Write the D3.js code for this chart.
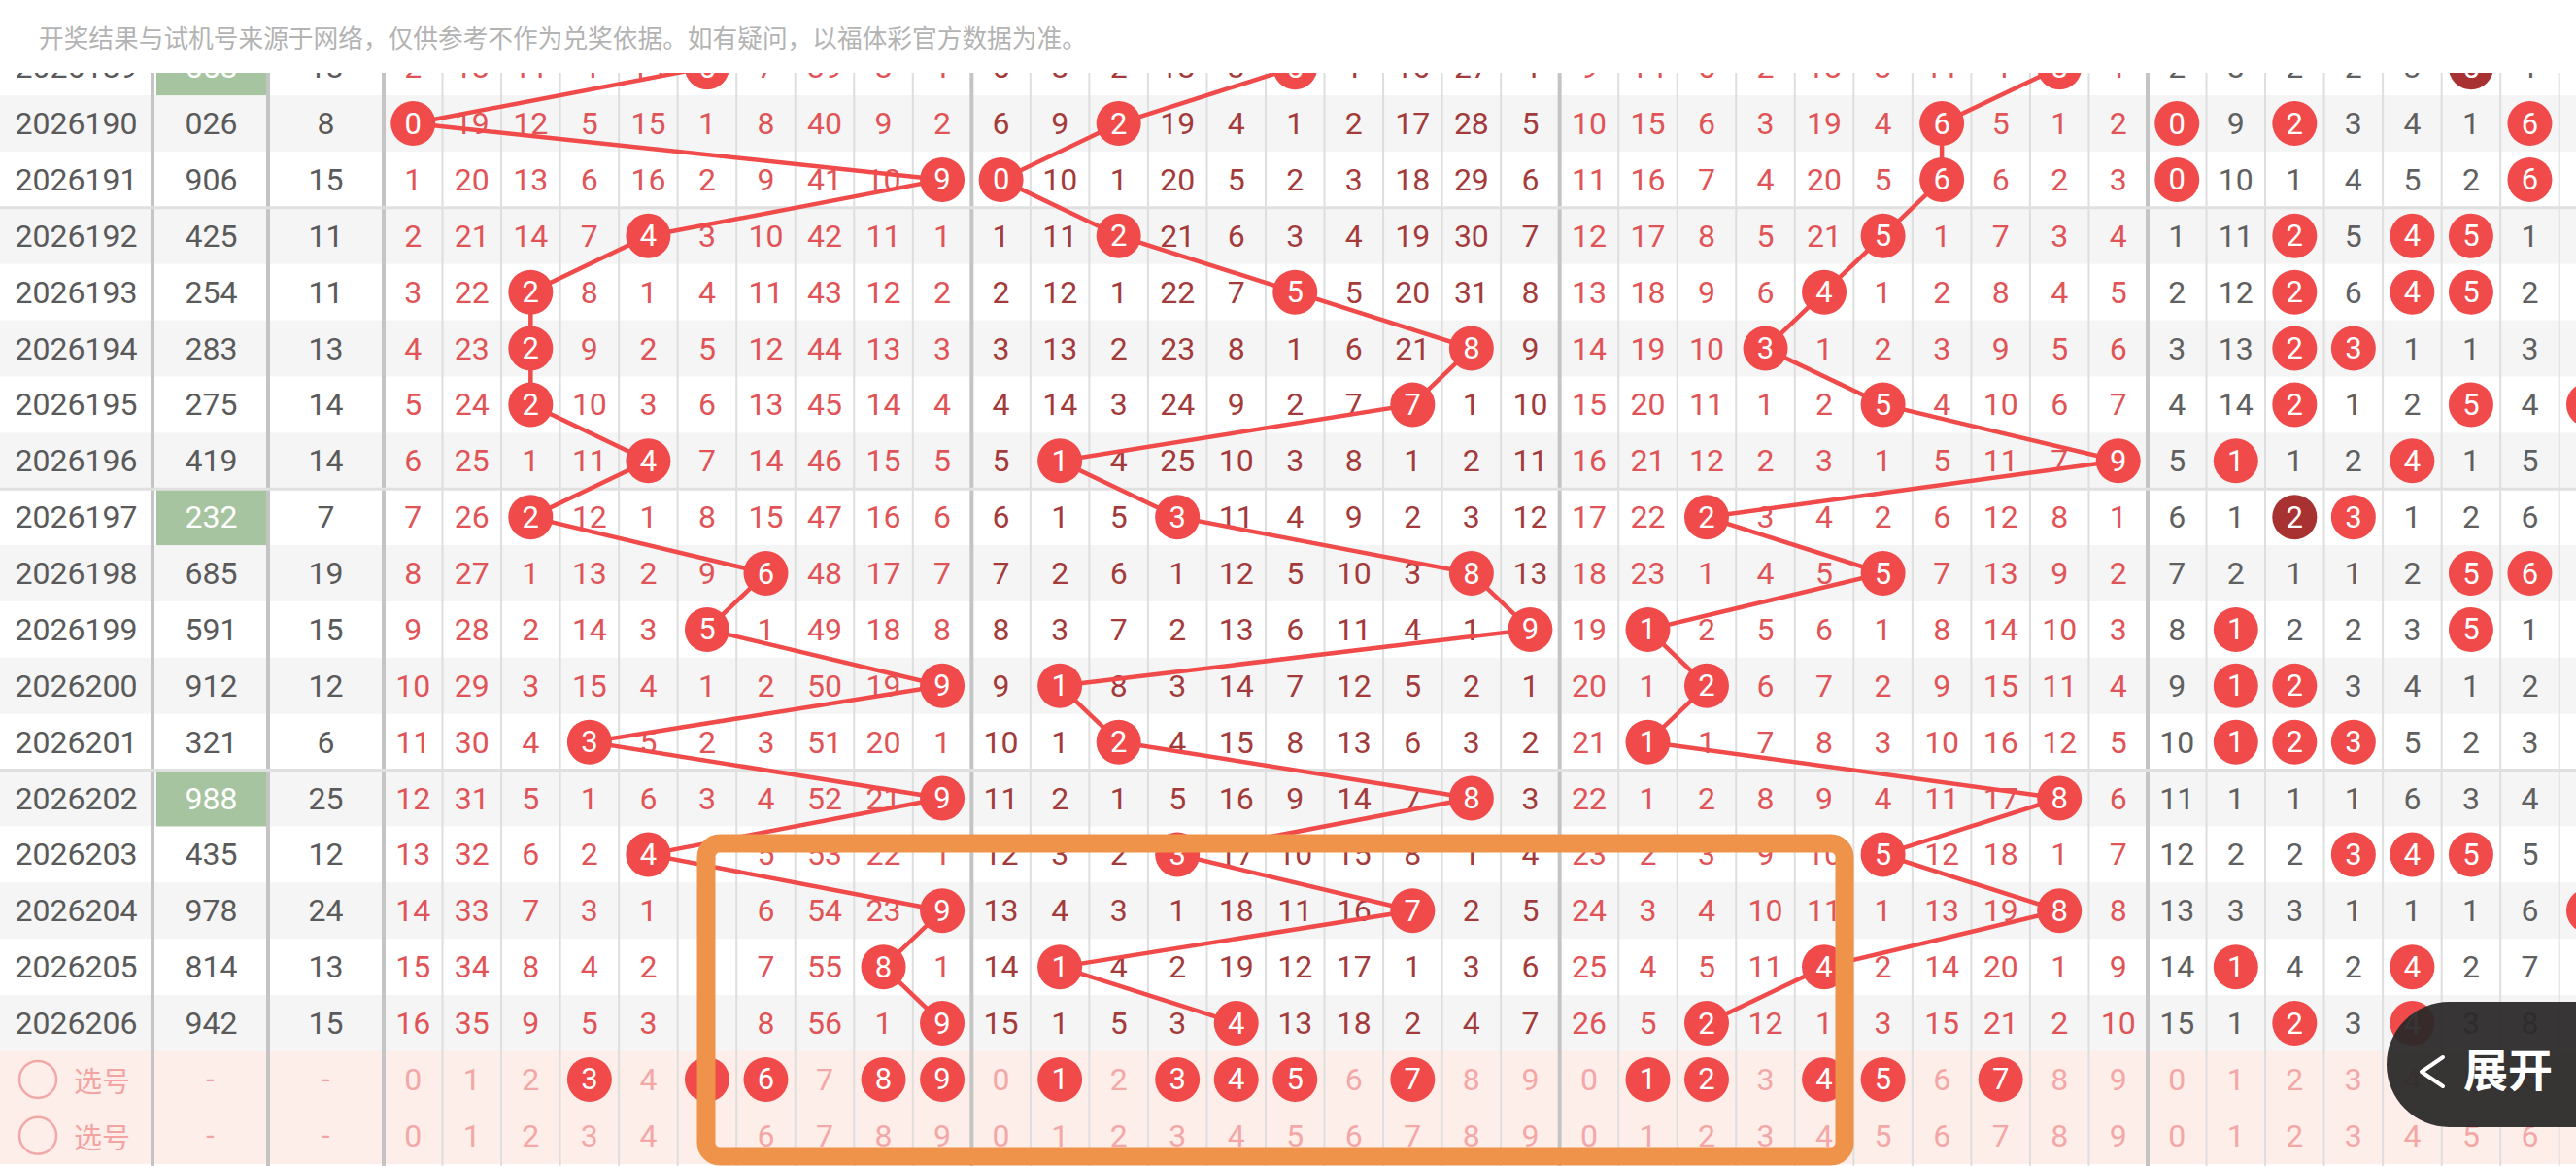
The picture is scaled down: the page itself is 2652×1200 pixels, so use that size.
<!DOCTYPE html>
<html><head><meta charset="utf-8">
<script src="https://cdn.jsdelivr.net/npm/d3@7"></script>
<style>html,body{margin:0;padding:0;background:#fff;overflow:hidden;} svg{display:block}</style>
</head><body>
<svg id="chart" width="2652" height="1200"></svg>
<script>
const notice = "开奖结果与试机号来源于网络，仅供参考不作为兑奖依据。如有疑问，以福体彩官方数据为准。";
const issues = ["2026189","2026190","2026191","2026192","2026193","2026194","2026195","2026196","2026197","2026198","2026199","2026200","2026201","2026202","2026203","2026204","2026205","2026206"];
const draws = ["558","026","906","425","254","283","275","419","232","685","591","912","321","988","435","978","814","942"];
const sums = [18,8,15,11,11,13,14,14,7,19,15,12,6,25,12,24,13,15];
// omission values; 0 = drawn (shown as a ball)
const hundredsOmit = [
 [2,18,11,4,14,0,7,39,8,1],
 [0,19,12,5,15,1,8,40,9,2],
 [1,20,13,6,16,2,9,41,10,0],
 [2,21,14,7,0,3,10,42,11,1],
 [3,22,0,8,1,4,11,43,12,2],
 [4,23,0,9,2,5,12,44,13,3],
 [5,24,0,10,3,6,13,45,14,4],
 [6,25,1,11,0,7,14,46,15,5],
 [7,26,0,12,1,8,15,47,16,6],
 [8,27,1,13,2,9,0,48,17,7],
 [9,28,2,14,3,0,1,49,18,8],
 [10,29,3,15,4,1,2,50,19,0],
 [11,30,4,0,5,2,3,51,20,1],
 [12,31,5,1,6,3,4,52,21,0],
 [13,32,6,2,0,4,5,53,22,1],
 [14,33,7,3,1,5,6,54,23,0],
 [15,34,8,4,2,6,7,55,0,1],
 [16,35,9,5,3,7,8,56,1,0]
];
const tensOmit = [
 [5,8,2,18,3,0,1,16,27,4],
 [6,9,0,19,4,1,2,17,28,5],
 [0,10,1,20,5,2,3,18,29,6],
 [1,11,0,21,6,3,4,19,30,7],
 [2,12,1,22,7,0,5,20,31,8],
 [3,13,2,23,8,1,6,21,0,9],
 [4,14,3,24,9,2,7,0,1,10],
 [5,0,4,25,10,3,8,1,2,11],
 [6,1,5,0,11,4,9,2,3,12],
 [7,2,6,1,12,5,10,3,0,13],
 [8,3,7,2,13,6,11,4,1,0],
 [9,0,8,3,14,7,12,5,2,1],
 [10,1,0,4,15,8,13,6,3,2],
 [11,2,1,5,16,9,14,7,0,3],
 [12,3,2,0,17,10,15,8,1,4],
 [13,4,3,1,18,11,16,0,2,5],
 [14,0,4,2,19,12,17,1,3,6],
 [15,1,5,3,0,13,18,2,4,7]
];
const unitsOmit = [
 [9,14,5,2,18,3,11,4,0,1],
 [10,15,6,3,19,4,0,5,1,2],
 [11,16,7,4,20,5,0,6,2,3],
 [12,17,8,5,21,0,1,7,3,4],
 [13,18,9,6,0,1,2,8,4,5],
 [14,19,10,0,1,2,3,9,5,6],
 [15,20,11,1,2,0,4,10,6,7],
 [16,21,12,2,3,1,5,11,7,0],
 [17,22,0,3,4,2,6,12,8,1],
 [18,23,1,4,5,0,7,13,9,2],
 [19,0,2,5,6,1,8,14,10,3],
 [20,1,0,6,7,2,9,15,11,4],
 [21,0,1,7,8,3,10,16,12,5],
 [22,1,2,8,9,4,11,17,0,6],
 [23,2,3,9,10,0,12,18,1,7],
 [24,3,4,10,11,1,13,19,0,8],
 [25,4,5,11,0,2,14,20,1,9],
 [26,5,0,12,1,3,15,21,2,10]
];
const distOmit = [
 [2,8,2,2,3,0,1,3,0,4],
 [0,9,0,3,4,1,0,4,1,5],
 [0,10,1,4,5,2,0,5,2,0],
 [1,11,0,5,0,0,1,6,3,1],
 [2,12,0,6,0,0,2,7,4,2],
 [3,13,0,0,1,1,3,8,0,3],
 [4,14,0,1,2,0,4,0,1,4],
 [5,0,1,2,0,1,5,1,2,0],
 [6,1,0,0,1,2,6,2,3,1],
 [7,2,1,1,2,0,0,3,0,2],
 [8,0,2,2,3,0,1,4,1,0],
 [9,0,0,3,4,1,2,5,2,0],
 [10,0,0,0,5,2,3,6,3,1],
 [11,1,1,1,6,3,4,7,0,0],
 [12,2,2,0,0,0,5,8,1,1],
 [13,3,3,1,1,1,6,0,0,0],
 [14,0,4,2,0,2,7,1,0,1],
 [15,1,0,3,0,3,8,2,1,0]
];
const digits = [0,1,2,3,4,5,6,7,8,9];
const pickH = [3,5,6,8,9];
const pickT = [1,3,4,5,7];
const pickU = [1,2,4,5,7];
const pickD = [];
const selectLabel = "选号";
const buttonLabel = "展开";

const W = 2652, H = 1200;
const RED = "#f04a4a", DARK = "#a83232";
const groupColors = ["#e05457", "#a33b3b", "#e05457", "#606060"];
const svg = d3.select("#chart");
const FONT = "Roboto, 'Noto Sans', sans-serif";

const colW = 60.533;
const x = d3.scaleBand().domain(d3.range(40)).range([395, 395 + 40 * colW]);
const rowKeys = issues.concat(["sel1", "sel2"]);
const rowH = 57.875;
const y = d3.scaleBand().domain(rowKeys).range([40.2, 40.2 + rowKeys.length * rowH]);
const cx = (g, k) => x(g * 10 + k) + x.bandwidth() / 2;
const cy = key => y(key) + y.bandwidth() / 2;
const leftCol = d3.scaleOrdinal().domain(["issue", "draw", "sum"]).range([[0, 157], [157, 276], [276, 395]]);
const leftC = k => (leftCol(k)[0] + leftCol(k)[1]) / 2;

svg.append("defs").append("clipPath").attr("id", "tbl").append("rect")
  .attr("x", 0).attr("y", 75).attr("width", W).attr("height", H - 75);
const T = svg.append("g").attr("clip-path", "url(#tbl)");

// row backgrounds
T.selectAll("rect.rowbg").data(rowKeys).join("rect")
  .attr("x", 0).attr("width", W)
  .attr("y", d => y(d)).attr("height", y.bandwidth() + 0.5)
  .attr("fill", (d, i) => d.startsWith("sel") ? "#fdeee9" : (i % 2 ? "#f5f5f5" : "#ffffff"));

// green cells for repeated-digit draws
const isPair = s => new Set(s.split("")).size < 3;
T.selectAll("rect.green").data(issues.filter((d, i) => isPair(draws[i]))).join("rect")
  .attr("x", leftCol("draw")[0] + 4).attr("width", leftCol("draw")[1] - leftCol("draw")[0] - 6)
  .attr("y", d => y(d)).attr("height", y.bandwidth())
  .attr("fill", "#a7c4a1");

// vertical grid lines
const thin = d3.range(1, 40).filter(i => i % 10 !== 0);
T.selectAll("line.vthin").data(thin).join("line")
  .attr("x1", i => x(i)).attr("x2", i => x(i)).attr("y1", 0).attr("y2", H)
  .attr("stroke", "#dedede").attr("stroke-width", 2);
const thick = [leftCol("issue")[1], leftCol("draw")[1], x(0), x(10), x(20), x(30)];
T.selectAll("line.vthick").data(thick).join("line")
  .attr("x1", d => d).attr("x2", d => d).attr("y1", 0).attr("y2", H)
  .attr("stroke", "#c4c4c4").attr("stroke-width", 4);
// five-row separators
const sepRows = issues.filter((d, i) => (+d.slice(-3) - 192) % 5 === 0);
T.selectAll("line.hsep").data(sepRows).join("line")
  .attr("x1", 0).attr("x2", W).attr("y1", d => y(d)).attr("y2", d => y(d))
  .attr("stroke", "#e0e0e0").attr("stroke-width", 3);

// left columns text
const txt = (sel) => sel.attr("font-family", FONT).attr("text-anchor", "middle").attr("dominant-baseline", "central");
issues.forEach((iss, i) => {
  txt(T.append("text")).attr("x", leftC("issue")).attr("y", cy(iss)).attr("font-size", 32).attr("fill", "#5a5a5a").text(iss);
  txt(T.append("text")).attr("x", leftC("draw") + 1).attr("y", cy(iss)).attr("font-size", 32)
    .attr("fill", isPair(draws[i]) ? "#ffffff" : "#5a5a5a").text(draws[i]);
  txt(T.append("text")).attr("x", leftC("sum")).attr("y", cy(iss)).attr("font-size", 32).attr("fill", "#5a5a5a").text(sums[i]);
});

// omission numbers
const groups = [hundredsOmit, tensOmit, unitsOmit, distOmit];
groups.forEach((arr, g) => {
  arr.forEach((row, i) => {
    row.forEach((v, k) => {
      if (v !== 0) txt(T.append("text")).attr("x", cx(g, k)).attr("y", cy(issues[i])).attr("font-size", 32)
        .attr("fill", groupColors[g]).text(v);
    });
  });
});

// trend lines
const line = d3.line();
[hundredsOmit, tensOmit, unitsOmit].forEach((arr, g) => {
  const pts = arr.map((row, i) => [cx(g, row.indexOf(0)), cy(issues[i])]);
  T.append("path").attr("d", line(pts)).attr("fill", "none").attr("stroke", RED).attr("stroke-width", 4.5);
});

// balls
const ball = (xx, yy, label, fill) => {
  T.append("circle").attr("cx", xx).attr("cy", yy).attr("r", 23).attr("fill", fill);
  txt(T.append("text")).attr("x", xx).attr("y", yy).attr("font-size", 31).attr("fill", "#fff").text(label);
};
groups.forEach((arr, g) => {
  arr.forEach((row, i) => {
    row.forEach((v, k) => {
      if (v === 0) {
        const cnt = draws[i].split("").filter(c => +c === k).length;
        ball(cx(g, k), cy(issues[i]), k, (g === 3 && cnt > 1) ? DARK : RED);
      }
    });
  });
});

// select rows
const picks = [pickH, pickT, pickU, pickD];
["sel1", "sel2"].forEach((key, si) => {
  T.append("circle").attr("cx", 39).attr("cy", cy(key)).attr("r", 19).attr("fill", "none")
    .attr("stroke", "#f3a8a8").attr("stroke-width", 2.5);
  txt(T.append("text")).attr("x", 105).attr("y", cy(key)).attr("font-size", 29).attr("font-family", "'Noto Sans CJK SC'")
    .attr("fill", "#f4a3a3").text(selectLabel);
  txt(T.append("text")).attr("x", leftC("draw")).attr("y", cy(key)).attr("font-size", 30).attr("fill", "#f4a3a3").text("-");
  txt(T.append("text")).attr("x", leftC("sum")).attr("y", cy(key)).attr("font-size", 30).attr("fill", "#f4a3a3").text("-");
  picks.forEach((p, g) => {
    digits.forEach(k => {
      if (si === 0 && p.includes(k)) ball(cx(g, k), cy(key), k, RED);
      else txt(T.append("text")).attr("x", cx(g, k)).attr("y", cy(key)).attr("font-size", 32).attr("fill", "#f4a7a7").text(k);
    });
  });
});

// header notice
svg.append("rect").attr("x", 0).attr("y", 0).attr("width", W).attr("height", 75).attr("fill", "#fff");
svg.append("text").attr("x", 40).attr("y", 37).attr("dominant-baseline", "central")
  .attr("font-family", "'Noto Sans CJK SC'").attr("font-size", 25.7).attr("fill", "#b3b3b3").text(notice);

// orange highlight box
svg.append("rect").attr("x", 727).attr("y", 868).attr("width", 1172).attr("height", 322).attr("rx", 14)
  .attr("fill", "none").attr("stroke", "#f0934a").attr("stroke-width", 19);

// expand button
svg.append("rect").attr("x", 2457).attr("y", 1031).attr("width", 300).attr("height", 129).attr("rx", 64.5)
  .attr("fill", "#2b2828").attr("fill-opacity", 0.94);
svg.append("path").attr("d", "M2515,1088 L2493,1103 L2515,1118").attr("fill", "none")
  .attr("stroke", "#fff").attr("stroke-width", 4).attr("stroke-linejoin", "round").attr("stroke-linecap", "round");
svg.append("text").attr("x", 2582).attr("y", 1098).attr("text-anchor", "middle").attr("dominant-baseline", "central")
  .attr("font-family", "'Noto Sans CJK SC'").attr("font-weight", 700).attr("font-size", 46).attr("fill", "#fff").text(buttonLabel);
</script>
</body></html>
